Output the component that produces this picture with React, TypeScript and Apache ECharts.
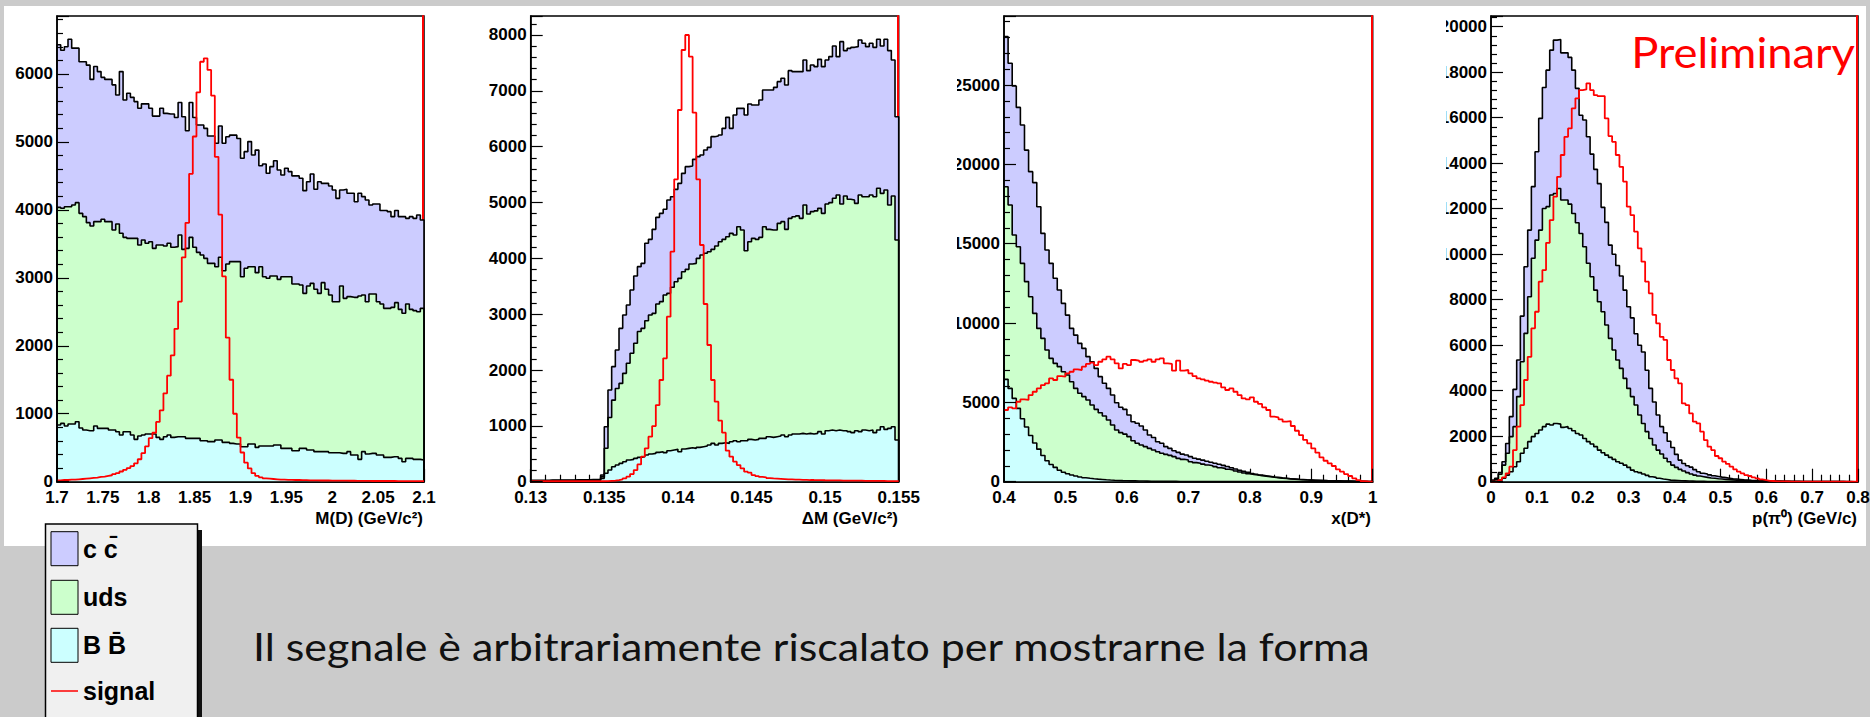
import React, { useEffect, useRef } from "react";
import * as echarts from "echarts";

// ---------------- data ----------------
// Panel 1: M(D), 100 bins from 1.7 to 2.1. Stack levels: BB, BB+uds, BB+uds+cc
const mdRange = [1.7, 2.1];
const mdXStep = 0.05;
const mdYMax = 6853;
const mdYStep = 1000;
const mdStackCC = [6430,6350,6400,6510,6380,6380,6180,6180,6130,5920, 6110,6035,5950,5920,5920,5840,5690,6035,5617,5716, 5656,5593,5495,5560,5560,5495,5380,5380,5495,5420, 5410,5410,5360,5580,5370,5165,5580,5360,5250,5250, 5200,5087,5087,4980,5235,4980,5077,5100,5100,5050, 4760,4857,5005,4808,4880,4650,4675,4538,4636,4724, 4587,4513,4612,4563,4500,4500,4465,4283,4415,4528, 4303,4415,4390,4390,4352,4293,4170,4293,4303,4244, 4244,4120,4244,4195,4146,4072,4087,4087,3990,3990, 3974,3900,3990,3900,3900,3875,3900,3875,3925,3850];
const mdStackUds = [4037,4023,4047,4047,4072,4106,3949,3900,3812,3763, 3827,3827,3861,3827,3827,3704,3792,3655,3596,3581, 3581,3581,3483,3557,3508,3532,3434,3483,3483,3468, 3508,3449,3459,3630,3419,3434,3596,3449,3375,3336, 3287,3213,3213,3164,3302,3105,3204,3238,3238,3238, 3017,3140,3164,3164,3076,3164,3017,2993,3027,3027, 2978,3017,3017,3017,2909,2909,2895,2772,2880,2919, 2831,2772,2929,2831,2747,2649,2649,2880,2698,2723, 2713,2713,2733,2747,2649,2762,2762,2649,2615,2551, 2551,2566,2635,2536,2478,2615,2536,2517,2502,2551];
const mdStackBB = [834,858,819,849,849,883,790,760,750,750, 819,785,785,785,760,760,736,687,736,736, 687,623,672,687,702,702,702,652,623,662, 687,652,662,662,662,638,638,638,638,603, 603,589,589,613,613,579,579,564,554,554, 515,515,554,554,505,525,525,525,525,540, 540,490,490,490,456,456,490,490,466,466, 442,442,442,442,427,427,427,417,417,442, 392,392,329,442,407,417,417,392,392,358, 358,368,368,343,294,343,343,329,329,319];
const mdSignal = [20,25,25,30,30,35,40,45,50,55, 60,70,75,85,95,110,125,150,175,200, 230,270,330,420,520,640,720,880,1050,1300, 1560,1860,2250,2650,3300,3810,4530,5080,5730,6180, 6230,6060,5680,4780,3930,3020,2120,1500,1000,650, 430,280,195,125,85,65,50,45,40,35, 30,30,28,26,25,25,24,22,20,20, 20,18,18,18,16,16,15,15,15,14, 14,12,12,12,12,10,10,10,10,10, 10,10,8,8,8,8,8,8,8,8];

// Panel 2: Delta M, 100 bins from 0.13 to 0.155
const dmRange = [0.13, 0.155];
const dmXStep = 0.005;
const dmYMax = 8340;
const dmYStep = 1000;
const dmStackCC = [25,25,25,25,25,28,28,28,28,30, 30,30,32,32,35,35,38,40,45,120, 985,1642,2060,2358,2746,2985,3164,3433,3684,3851, 3910,4269,4340,4519,4734,4806,4878,5045,5104,5236, 5343,5522,5642,5654,5773,5821,5851,5940,5988,6179, 6191,6209,6328,6525,6328,6567,6686,6686,6567,6764, 6746,6746,6836,7015,7015,7015,7062,7164,7224,7104, 7361,7343,7343,7343,7552,7361,7463,7433,7564,7433, 7552,7612,7803,7612,7881,7720,7761,7779,7791,7911, 7851,7791,7851,7779,7923,7803,7923,7720,7552,6537];
const dmStackUds = [18,18,18,18,18,20,20,20,20,22, 22,22,24,24,26,26,28,30,35,90, 600,1150,1460,1670,1760,1940,2120,2300,2480,2690, 2746,2883,2985,3015,3182,3224,3343,3373,3481,3582, 3642,3761,3803,3899,3910,4000,4060,4090,4119,4161, 4221,4298,4340,4388,4448,4418,4567,4507,4137,4298, 4358,4340,4376,4567,4519,4507,4507,4627,4657,4519, 4716,4746,4760,4716,4955,4794,4836,4850,4895,4806, 4973,4997,5075,5134,4973,5116,5057,5045,4985,5134, 5104,5104,5134,5104,5254,5164,5224,4955,5116,4328];
const dmStackBB = [8,8,8,8,8,8,8,8,8,10, 10,10,12,12,14,15,18,20,25,60, 150,209,269,298,328,358,388,400,418,436, 448,478,495,507,525,537,520,555,567,579, 537,585,597,609,597,615,627,639,657,687, 657,687,699,687,716,734,716,734,734,758, 746,758,776,776,806,794,806,818,836,806, 836,854,854,866,854,866,854,866,896,854, 913,925,913,925,913,913,896,878,913,896, 925,913,925,878,925,985,937,955,985,746];
const dmSignal = [8,8,8,8,8,8,8,8,8,8, 8,8,8,8,8,8,8,8,8,8, 10,15,20,30,42,60,90,137,209,310, 448,597,806,997,1373,1821,2209,2955,4119,5415, 6657,7731,8000,7612,6609,5415,4239,3182,2448,1821, 1433,1093,878,555,448,358,298,239,179,161, 119,101,85,78,65,58,54,50,46,42, 40,38,36,34,32,30,30,28,28,26, 25,24,22,22,20,20,20,18,18,18, 16,16,15,15,14,14,12,12,12,10];

// Panel 3: x(D*), 90 bins from 0.4 to 1.0
const xdRange = [0.4, 1.0];
const xdXStep = 0.1;
const xdYMax = 29350;
const xdYStep = 5000;
const xdStackCC = [28050,26370,24940,23590,22480,20900,19540,18850,17330,15650, 14600,13760,12820,12080,11240,10500,9660,9240,8720,8400, 7880,7560,7140,6620,6200,5880,5460,4980,4690,4560, 4200,3780,3680,3510,3260,2940,2790,2520,2420,2210, 2100,1950,1850,1740,1680,1580,1480,1420,1360,1290, 1230,1160,1100,1030,960,880,800,720,650,590, 520,470,420,380,340,300,270,240,215,190, 170,150,135,120,110,95,85,75,65,60, 55,50,45,40,35,30,25,20,15,12];
const xdStackUds = [18590,17440,15550,14810,13760,12610,11660,10610,9660,9030, 8300,7770,7460,7250,6930,6720,6300,5880,5570,5360, 5150,4830,4560,4350,4140,3890,3570,3260,3090,3000, 2840,2580,2420,2310,2210,2100,2000,1890,1790,1720, 1660,1580,1470,1410,1370,1260,1200,1160,1110,1050, 1010,950,880,840,780,740,670,610,550,500, 460,420,380,340,310,280,250,220,200,180, 160,140,125,110,100,90,80,70,60,55, 50,45,40,35,30,25,20,15,12,10];
const xdStackBB = [6450,5880,5250,4620,3970,3450,2910,2440,2050,1650, 1320,1080,900,720,600,500,420,360,300,250, 215,185,160,140,120,105,92,80,70,62, 55,50,45,40,36,32,29,26,24,22, 20,18,16,15,14,13,12,11,10,9, 9,8,8,7,7,6,6,5,5,5, 4,4,4,3,3,3,3,2,2,2, 2,2,2,1,1,1,1,1,1,1, 1,1,1,0,0,0,0,0,0,0];
const xdSignal = [4520,4690,4620,5040,5190,5150,5460,5670,5880,6090, 6200,6510,6410,6660,6620,6830,6930,7080,7040,7250, 7420,7500,7350,7560,7710,7880,7710,7460,7140,7420, 7350,7670,7630,7560,7630,7710,7560,7710,7770,7460, 7420,7000,7630,7000,7040,6830,6660,6510,6450,6370, 6300,6250,6200,5950,5780,5880,5670,5460,5250,5190, 5320,5040,4900,4690,4520,4100,4060,3930,3780,3820, 3510,3210,2940,2630,2420,2100,1830,1530,1320,1160, 990,780,630,480,360,210,105,40,20,10];

// Panel 4: p(pi0), 100 bins from 0 to 0.8
const ppRange = [0, 0.8];
const ppXStep = 0.1;
const ppYMax = 20470;
const ppYStep = 2000;
const ppStackCC = [70,150,400,880,1680,2860,4060,5350,7280,9450, 11060,12970,14500,15970,17330,18090,18970,19410,19440,18850, 18850,18650,18090,17290,16110,15900,15160,14400,13730,13100, 12060,11400,10400,10000,9500,9040,8420,7690,7200,6500, 6000,5700,4900,4100,3500,2930,2420,2150,1780,1500, 1200,950,800,700,640,530,440,370,340,300, 260,230,200,180,155,130,120,100,80,70, 60,55,50,45,40,35,30,28,25,22, 20,18,16,14,12,10,9,8,7,6, 5,5,4,4,3,3,2,2,1,1];
const ppStackUds = [40,100,330,730,1250,1980,2420,3740,5270,6520, 8130,9820,10620,11060,12010,12090,12600,12670,12890,12380, 12380,12200,11790,11380,10910,10330,9600,9010,8420,7910, 7470,6890,6300,5790,5350,4980,4540,4100,3740,3370, 2930,2560,2200,1900,1610,1390,1220,1030,880,730, 630,540,470,400,340,290,250,220,190,160, 150,130,120,100,90,80,70,60,55,50, 45,40,35,30,28,25,22,20,18,16, 14,12,10,9,8,7,6,5,5,4, 4,3,3,2,2,2,1,1,1,1];
const ppStackBB = [10,30,70,150,290,440,660,880,1250,1470, 1760,1980,2120,2270,2420,2530,2490,2560,2530,2390, 2420,2340,2240,2120,2050,1900,1760,1660,1540,1390, 1270,1170,1070,980,880,810,730,630,510,440, 400,340,280,220,190,150,120,100,70,60, 50,40,35,30,25,20,18,15,12,10, 9,8,7,6,5,5,4,4,3,3, 3,2,2,2,2,1,1,1,1,1, 1,1,1,1,0,0,0,0,0,0, 0,0,0,0,0,0,0,0,0,0];
const ppSignal = [0,10,70,190,370,660,1390,2420,3370,4470, 5490,6740,7470,8790,9300,10500,11500,12530,13400,14360, 15160,15530,16410,16850,17210,17240,17510,17210,16990,16950, 16950,15970,15190,14940,14360,13840,13190,12090,11720,10990, 10260,9670,8790,8280,7330,6960,6370,6230,5350,4910, 4540,4320,3440,3370,3000,2640,2560,2200,1830,1540, 1390,1130,1030,880,780,660,540,440,370,290, 250,190,150,100,70,40,30,15,12,10, 8,6,5,4,3,3,2,2,1,1, 1,1,0,0,0,0,0,0,0,0];

const axisTitles = ["M(D) (GeV/c²)", "ΔM (GeV/c²)", "x(D*)", "p(π⁰) (GeV/c)"];
const legendLabels = ["c c\u0304", "uds", "B B\u0304", "signal"];
const noteText = "Il segnale è arbitrariamente riscalato per mostrarne la forma";
const stampText = "Preliminary";

// ---------------- styling / layout ----------------
const FONT = '"Liberation Sans", Arial, Helvetica, sans-serif';
const COL_CC = "#ccccff";
const COL_UDS = "#ccffcc";
const COL_BB = "#ccffff";
const COL_SIG = "#ff0000";

const panels = [
  { left: 57, width: 367, range: mdRange, xStep: mdXStep, yMax: mdYMax, yStep: mdYStep, cc: mdStackCC, uds: mdStackUds, bb: mdStackBB, sig: mdSignal },
  { left: 530.7, width: 368, range: dmRange, xStep: dmXStep, yMax: dmYMax, yStep: dmYStep, cc: dmStackCC, uds: dmStackUds, bb: dmStackBB, sig: dmSignal },
  { left: 1004, width: 368.7, range: xdRange, xStep: xdXStep, yMax: xdYMax, yStep: xdYStep, cc: xdStackCC, uds: xdStackUds, bb: xdStackBB, sig: xdSignal },
  { left: 1491, width: 367, range: ppRange, xStep: ppXStep, yMax: ppYMax, yStep: ppYStep, cc: ppStackCC, uds: ppStackUds, bb: ppStackBB, sig: ppSignal },
];
const GRID_TOP = 16;
const GRID_H = 465.7;

function stepPoints(lo: number, hi: number, vals: number[], closed: boolean) {
  const n = vals.length;
  const w = (hi - lo) / n;
  const pts: number[][] = [];
  if (closed) pts.push([lo, 0]);
  vals.forEach((v, i) => pts.push([lo + i * w, v]));
  pts.push([hi, vals[n - 1]]);
  if (closed) pts.push([hi, 0]);
  return pts;
}

const plainNum = (v: number) => String(Math.round(v * 100000) / 100000);

function buildOption() {
  const grid: any[] = [];
  const xAxis: any[] = [];
  const yAxis: any[] = [];
  const series: any[] = [];
  const labelStyle = { color: "#000", fontFamily: FONT, fontWeight: "bold", fontSize: 17 };

  panels.forEach((p, gi) => {
    grid.push({
      left: p.left, top: GRID_TOP, width: p.width, height: GRID_H,
      show: true, borderColor: "#000", borderWidth: 1.5, backgroundColor: "transparent",
      containLabel: false, outerBoundsMode: "none",
    });
    const [lo, hi] = p.range;
    xAxis.push({
      gridIndex: gi, type: "value", min: lo, max: hi, interval: p.xStep, position: "bottom", z: 1,
      axisLine: { show: true, onZero: false, lineStyle: { color: "#000", width: 1.5 } },
      axisTick: { show: true, inside: true, length: 13, lineStyle: { color: "#000", width: 1.2 } },
      minorTick: { show: true, splitNumber: 5, length: 7, lineStyle: { color: "#000", width: 1.2 } },
      splitLine: { show: false }, minorSplitLine: { show: false },
      axisLabel: { ...labelStyle, margin: 7, formatter: plainNum, showMinLabel: true, showMaxLabel: true, hideOverlap: false },
    });
    xAxis.push({
      gridIndex: gi, type: "value", min: lo, max: hi, position: "bottom", z: 3,
      axisLine: { show: true, onZero: false, lineStyle: { color: "#000", width: 1.5 } },
      axisTick: { show: false }, axisLabel: { show: false }, splitLine: { show: false },
    });
    yAxis.push({
      gridIndex: gi, type: "value", min: 0, max: p.yMax, interval: p.yStep, position: "left", z: 5,
      axisLine: { show: true, onZero: false, lineStyle: { color: "#000", width: 1.5 } },
      axisTick: { show: true, inside: true, length: 12, lineStyle: { color: "#000", width: 1.2 } },
      minorTick: { show: true, splitNumber: 5, length: 6, lineStyle: { color: "#000", width: 1.2 } },
      splitLine: { show: false }, minorSplitLine: { show: false },
      axisLabel: { ...labelStyle, margin: 4, formatter: plainNum, showMaxLabel: false, hideOverlap: false },
    });
    yAxis.push({
      gridIndex: gi, type: "value", min: 0, max: p.yMax, position: "right", offset: -1, z: 1,
      axisLine: { show: true, onZero: false, lineStyle: { color: COL_SIG, width: 2 } },
      axisTick: { show: false }, axisLabel: { show: false }, splitLine: { show: false },
    });
    const base = { type: "line", xAxisIndex: gi * 2, yAxisIndex: gi * 2, step: "end", symbol: "none", showSymbol: false, silent: true, animation: false };
    const stacks: [string, number[], string][] = [
      [legendLabels[0], p.cc, COL_CC],
      [legendLabels[1], p.uds, COL_UDS],
      [legendLabels[2], p.bb, COL_BB],
    ];
    stacks.forEach(([name, vals, col]) => {
      series.push({
        ...base, name, z: 2, data: stepPoints(lo, hi, vals, true),
        lineStyle: { color: "#000", width: 1.6 },
        areaStyle: { color: col, opacity: 1 },
      });
    });
    series.push({
      ...base, name: legendLabels[3], z: 4, data: stepPoints(lo, hi, p.sig, false),
      lineStyle: { color: COL_SIG, width: 1.8 },
    });
  });

  const titleFont = `bold 17px ${FONT}`;
  const txt = (x: number, y: number, text: string, font: string, fill: string, align: string, z = 12, extra: any = {}) => ({
    type: "text", x, y, z, silent: true, ...extra,
    style: { text, font, fill, align, textAlign: align, verticalAlign: "middle", textVerticalAlign: "middle" },
  });

  const graphic: any[] = [
    // clipped y labels of panels 3 and 4 (as in the reference)
    { type: "rect", z: 10, silent: true, shape: { x: 925, y: 18, width: 32, height: 475 }, style: { fill: "#fff" } },
    { type: "rect", z: 10, silent: true, shape: { x: 1415, y: 18, width: 31, height: 475 }, style: { fill: "#fff" } },
    txt(423, 518, axisTitles[0], titleFont, "#000", "right"),
    txt(898, 518, axisTitles[1], titleFont, "#000", "right"),
    txt(1371, 518, axisTitles[2], titleFont, "#000", "right"),
    txt(1857, 518, axisTitles[3], titleFont, "#000", "right"),
    txt(1855, 52, stampText, `42px Lato, "Open Sans", sans-serif`, COL_SIG, "right", 12, { scaleX: 1.08 }),
    txt(253, 646, noteText, `39px Lato, "Open Sans", sans-serif`, "#111", "left", 12, { scaleX: 1.1 }),
    // legend box
    { type: "rect", z: 12, silent: true, shape: { x: 197, y: 530, width: 5, height: 200 }, style: { fill: "#111" } },
    { type: "rect", z: 13, silent: true, shape: { x: 45.5, y: 524, width: 152, height: 200 }, style: { fill: "#f0f0f0", stroke: "#000", lineWidth: 1.5 } },
    { type: "rect", z: 14, silent: true, shape: { x: 51, y: 531.7, width: 27, height: 34 }, style: { fill: COL_CC, stroke: "#000", lineWidth: 1 } },
    { type: "rect", z: 14, silent: true, shape: { x: 51, y: 580.3, width: 27, height: 34 }, style: { fill: COL_UDS, stroke: "#000", lineWidth: 1 } },
    { type: "rect", z: 14, silent: true, shape: { x: 51, y: 628.3, width: 27, height: 34 }, style: { fill: COL_BB, stroke: "#000", lineWidth: 1 } },
    { type: "line", z: 14, silent: true, shape: { x1: 51, y1: 691, x2: 78, y2: 691 }, style: { stroke: COL_SIG, lineWidth: 1.5 } },
    txt(83, 548.7, legendLabels[0], `bold 25px ${FONT}`, "#000", "left", 15),
    txt(83, 597.3, legendLabels[1], `bold 25px ${FONT}`, "#000", "left", 15),
    txt(83, 645.3, legendLabels[2], `bold 25px ${FONT}`, "#000", "left", 15),
    txt(83, 691.3, legendLabels[3], `bold 25px ${FONT}`, "#000", "left", 15),
  ];

  return {
    animation: false,
    backgroundColor: "transparent",
    grid, xAxis, yAxis, series, graphic,
  };
}

export default function App() {
  const ref = useRef<HTMLDivElement>(null);
  useEffect(() => {
    document.body.style.margin = "0";
    const chart = echarts.init(ref.current as HTMLDivElement, null, { renderer: "svg" });
    chart.setOption(buildOption() as any);
    return () => chart.dispose();
  }, []);
  return (
    <div style={{ position: "relative", width: 1870, height: 717, background: "#cbcbcb", overflow: "hidden" }}>
      <div style={{ position: "absolute", left: 4, top: 6, width: 1862, height: 540, background: "#fff" }} />
      <div ref={ref} style={{ position: "absolute", left: 0, top: 0, width: 1870, height: 717 }} />
    </div>
  );
}
